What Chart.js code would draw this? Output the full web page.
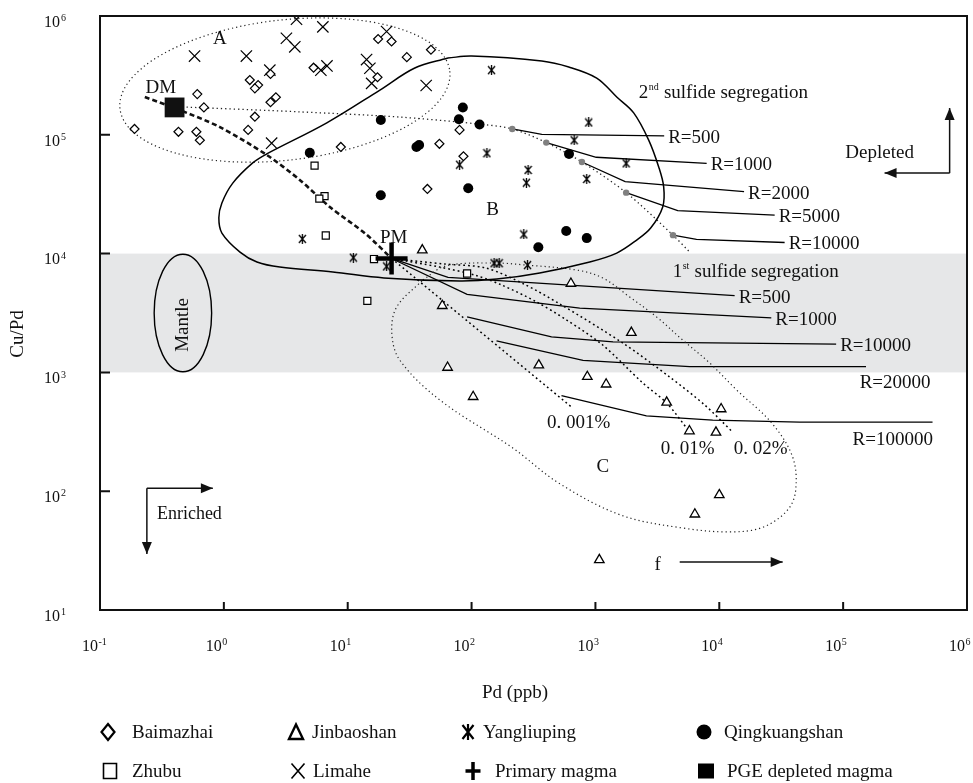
<!DOCTYPE html>
<html><head><meta charset="utf-8">
<script src="https://cdn.jsdelivr.net/npm/chart.js@4/dist/chart.umd.min.js"></script>
<style>html,body{margin:0;padding:0;background:#fff;} canvas{display:block;}</style>
</head><body>
<canvas id="c" width="973" height="783"></canvas>
<script>
// ---------- tick labels ----------
const xTicks = [0.1, 1, 10, 100, 1000, 10000, 100000, 1000000];
const xTickExp = ['-1', '0', '1', '2', '3', '4', '5', '6'];
const yTicks = [10, 100, 1000, 10000, 100000, 1000000];
const yTickExp = ['1', '2', '3', '4', '5', '6'];
const bandRange = [1000, 10000];

// ---------- sample series [Pd ppb, Cu/Pd] ----------
const baimazhai = [[17.6,640000],[22.6,610000],[30,450000],[47,520000],[5.3,367000],[1.62,289000],[1.89,262000],[1.78,246000],[2.38,325000],[17.4,305000],[0.61,220000],[0.69,170000],[2.38,188000],[2.63,207000],[1.78,142000],[1.57,110000],[0.19,112000],[0.43,106000],[0.60,106000],[0.64,90000],[8.8,79000],[80,110000],[86,66000],[44,35000],[55,84000]];
const zhubu = [[5.4,55000],[6.5,30500],[5.9,29000],[6.65,14200],[16.3,9000],[92,6800],[14.4,4000]];
const jinbaoshan = [[40,10700],[634,5600],[58,3640],[1950,2160],[64,1100],[349,1150],[860,920],[1220,795],[103,624],[3760,560],[10350,492],[5740,321],[9400,313],[10000,93],[6350,64],[1075,26.4]];
const yangliuping = [[4.3,13300],[11.1,9250],[20.6,7800],[80,56000],[145,350000],[883,127000],[673,90000],[133,70000],[1770,57500],[286,50600],[277,39500],[851,42500],[264,14500],[152,8300],[167,8300],[283,8000]];
const qingkuangshan = [[18.5,133000],[4.94,70600],[35.9,79000],[37.7,82000],[18.5,31000],[85,170000],[79,135000],[116,122000],[94,35500],[612,69000],[581,15500],[851,13500],[346,11300]];
const limahe = [[3.86,940000],[0.58,460000],[1.52,460000],[6.3,810000],[3.2,650000],[3.74,550000],[2.35,350000],[6.07,350000],[6.8,380000],[20.6,740000],[14.2,430000],[15.1,363000],[15.6,271000],[43,260000],[2.43,85000]];
const primaryMagma = [[22.6,9100]];
const depletedMagma = [[0.40,170000]];
const secondSegPoints = [[213,112000],[401,86000],[778,59000],[1770,32600],[4230,14300]];

// ---------- model curves / fields ----------
const envelopeB = [[64.3,443000],[100,460000],[369,418000],[609,372000],[1024,300000],[1486,208000],[2037,153000],[2692,90300],[3243,53600],[3557,36400],[3493,24700],[2793,16400],[2153,13000],[1486,10100],[900,8500],[355,6870],[160,6100],[80.3,5870],[19.6,6240],[7.58,7000],[2.83,7700],[1.85,8500],[1.35,10300],[0.964,14900],[0.911,20000],[0.964,26700],[1.18,39200],[1.71,58000],[2.22,69000],[6.78,126000],[18.2,238000],[34.8,365000],[64.3,443000]];
const fieldC = [[40.4,6000],[61.9,7870],[148,8340],[279,8000],[706,7270],[1145,6240],[1891,4310],[3126,2920],[5070,1870],[8370,1200],[13800,711],[26500,375],[39100,194],[41400,102],[35600,69.5],[22800,50],[12600,45.4],[5070,49],[1600,63],[506,117],[215,231],[55.4,586],[26.3,1270],[22.7,2150],[24.9,3560],[40.4,6000]];
const dmToPm = [[0.23,208000],[0.40,168000],[0.93,116000],[2.22,67600],[4.1,41700],[7.17,24700],[14,14600],[22.6,9100]];
const secondTrend = [[0.50,171000],[4.1,156000],[26.3,141000],[116,123000],[213,112000],[401,86000],[778,59000],[1770,32600],[4230,14300],[5770,10300]];
const r2_500 = [[213,112000],[369,101000],[3590,98000]];
const r2_1000 = [[401,86000],[1015,64700],[7910,57500]];
const r2_2000 = [[778,59000],[1738,40300],[15850,33200]];
const r2_5000 = [[1770,32600],[4616,23000],[28000,21100]];
const r2_10000 = [[4230,14300],[6546,13200],[33700,12400]];
const r1_500 = [[22.6,9100],[64.6,6310],[13300,4430]];
const r1_1000 = [[22.6,9100],[92,4540],[747,3470],[26300,2880]];
const r1_10000 = [[92,2940],[442,1990],[1387,1810],[87800,1730]];
const r1_20000 = [[159,1840],[794,1260],[5770,1120],[153000,1120]];
const r1_100000 = [[532,637],[2580,430],[8850,397],[44600,381],[527000,381]];
const fan001 = [[22.6,9100],[656,501]];
const fan01 = [[22.6,9100],[55.4,7700],[106,6600],[175,5440],[324,3990],[586,2760],[1145,1700],[2410,815],[3760,552],[5770,315]];
const fan02 = [[22.6,9100],[60.8,8170],[130,7570],[264,5550],[515,3770],[1660,1770],[3980,914],[7620,532],[12800,315]];

const FF = '"Liberation Serif", "Times New Roman", serif';
const xy = a => a.map(p => ({x: p[0], y: p[1]}));

// asterisk marker
function makeAsterisk(w, h, lw) {
  const c = document.createElement('canvas'); c.width = w + 2; c.height = h + 2;
  const g = c.getContext('2d'); g.strokeStyle = '#000'; g.lineWidth = lw; g.lineCap = 'butt';
  g.beginPath();
  g.moveTo(1, 1); g.lineTo(w + 1, h + 1);
  g.moveTo(w + 1, 1); g.lineTo(1, h + 1);
  g.moveTo(w / 2 + 1, 0); g.lineTo(w / 2 + 1, h + 2);
  g.stroke();
  return c;
}
const asteriskImg = makeAsterisk(7, 8, 1.3);

function pts(data, style, extra) {
  return Object.assign({type: 'scatter', data: xy(data), pointStyle: style, borderColor: '#000', backgroundColor: '#fff', borderWidth: 1.2, showLine: false, order: 1}, extra);
}
function curve(data, extra) {
  return Object.assign({type: 'scatter', data: xy(data), showLine: true, pointRadius: 0, borderColor: '#000', borderWidth: 1.3, fill: false, tension: 0, order: 3}, extra);
}

// annotation layout (text anchored in data space)
const notes = {
  letters: [
    {t: 'A', x: 0.93, y: 640000}, {t: 'DM', x: 0.31, y: 248000}, {t: 'PM', x: 23.5, y: 13500},
    {t: 'B', x: 148, y: 23300}, {t: 'C', x: 1145, y: 160}, {t: 'f', x: 3180, y: 23.9},
    {t: 'Depleted', x: 197000, y: 70300}, {t: '0. 001%', x: 733, y: 375},
    {t: '0. 01%', x: 5560, y: 226}, {t: '0. 02%', x: 21600, y: 226}
  ]
};

const deco = {
  id: 'deco',
  beforeDatasetsDraw(chart) {
    const {ctx, chartArea: a} = chart; const X = chart.scales.x, Y = chart.scales.y;
    ctx.save();
    ctx.fillStyle = '#e6e7e8';
    const yt = Y.getPixelForValue(bandRange[1]), yb = Y.getPixelForValue(bandRange[0]);
    ctx.fillRect(a.left, yt, a.right - a.left, yb - yt);
    const dx = X.getPixelForValue(10) - X.getPixelForValue(1);
    const dy = Y.getPixelForValue(10) - Y.getPixelForValue(100);
    // field A (dotted ellipse)
    ctx.strokeStyle = '#222'; ctx.lineWidth = 1.2; ctx.setLineDash([1.2, 3]);
    ctx.beginPath();
    ctx.ellipse(X.getPixelForValue(3.11), Y.getPixelForValue(238000), 1.34 * dx, 0.59 * dy, -6.5 * Math.PI / 180, 0, 2 * Math.PI);
    ctx.stroke();
    // mantle ellipse
    ctx.setLineDash([]); ctx.lineWidth = 1.4; ctx.strokeStyle = '#000';
    ctx.beginPath();
    ctx.ellipse(X.getPixelForValue(0.467), Y.getPixelForValue(3162), 0.232 * dx, 0.495 * dy, 0, 0, 2 * Math.PI);
    ctx.stroke();
    ctx.restore();
  },
  afterDatasetsDraw(chart) {
    const {ctx, chartArea: a} = chart; const X = chart.scales.x, Y = chart.scales.y;
    const P = (x, y) => [X.getPixelForValue(x), Y.getPixelForValue(y)];
    ctx.save();
    // frame
    ctx.strokeStyle = '#111'; ctx.lineWidth = 2;
    ctx.strokeRect(a.left, a.top, a.right - a.left, a.bottom - a.top);
    // ticks
    ctx.lineWidth = 2;
    ctx.beginPath();
    xTicks.forEach(v => { const x = X.getPixelForValue(v); ctx.moveTo(x, a.bottom); ctx.lineTo(x, a.bottom - 8); });
    yTicks.forEach(v => { const y = Y.getPixelForValue(v); ctx.moveTo(a.left, y); ctx.lineTo(a.left + 10, y); });
    ctx.stroke();
    // tick labels
    ctx.fillStyle = '#111';
    xTicks.forEach((v, i) => {
      const x = X.getPixelForValue(v);
      ctx.font = '16px ' + FF; ctx.textAlign = 'right'; ctx.textBaseline = 'middle';
      ctx.fillText('10', x - 2, a.bottom + 37);
      ctx.font = '10px ' + FF; ctx.textAlign = 'left';
      ctx.fillText(xTickExp[i], x - 1.5, a.bottom + 32);
    });
    yTicks.forEach((v, i) => {
      const y = Y.getPixelForValue(v);
      ctx.font = '16px ' + FF; ctx.textAlign = 'right'; ctx.textBaseline = 'middle';
      ctx.fillText('10', a.left - 40, y + 6.5);
      ctx.font = '10px ' + FF; ctx.textAlign = 'left';
      ctx.fillText(yTickExp[i], a.left - 39, y + 2.5);
    });
    // axis titles
    ctx.font = '19px ' + FF; ctx.textAlign = 'center'; ctx.textBaseline = 'middle';
    ctx.fillText('Pd (ppb)', 515, a.bottom + 83);
    ctx.save(); ctx.translate(18, 334); ctx.rotate(-Math.PI / 2); ctx.fillText('Cu/Pd', 0, 0); ctx.restore();

    // letters / notes
    ctx.fillStyle = '#111';
    notes.letters.forEach(n => {
      const [x, y] = P(n.x, n.y);
      ctx.font = '19px ' + FF; ctx.textAlign = 'center'; ctx.textBaseline = 'middle';
      ctx.fillText(n.t, x, y);
    });
    // Mantle
    { const [x, y] = P(0.467, 2510); ctx.save(); ctx.translate(x, y); ctx.rotate(-Math.PI / 2);
      ctx.font = '19px ' + FF; ctx.textAlign = 'center'; ctx.textBaseline = 'middle'; ctx.fillText('Mantle', 0, 0); ctx.restore(); }
    // Enriched
    { const [x, y] = P(0.288, 64.3); ctx.font = '18px ' + FF; ctx.textAlign = 'left'; ctx.textBaseline = 'middle'; ctx.fillText('Enriched', x, y); }
    // superscript labels
    const sup = (base, s, rest, xv, yv) => {
      const [x, y] = P(xv, yv);
      ctx.textAlign = 'left'; ctx.textBaseline = 'middle';
      ctx.font = '19px ' + FF; ctx.fillText(base, x, y);
      const w1 = ctx.measureText(base).width;
      ctx.font = '10px ' + FF; ctx.fillText(s, x + w1 + 0.5, y - 6);
      const w2 = ctx.measureText(s).width;
      ctx.font = '19px ' + FF; ctx.fillText(rest, x + w1 + w2 + 1, y);
    };
    sup('2', 'nd', ' sulfide segregation', 2235, 225000);
    sup('1', 'st', ' sulfide segregation', 4205, 7000);
    // R labels at line ends
    ctx.font = '19px ' + FF; ctx.textAlign = 'left'; ctx.textBaseline = 'middle';
    const endLabel = (arr, t) => { const p = arr[arr.length - 1]; const [x, y] = P(p[0], p[1]); ctx.fillText(t, x + 4, y + 2); };
    endLabel(r2_500, 'R=500'); endLabel(r2_1000, 'R=1000'); endLabel(r2_2000, 'R=2000');
    endLabel(r2_5000, 'R=5000'); endLabel(r2_10000, 'R=10000');
    endLabel(r1_500, 'R=500'); endLabel(r1_1000, 'R=1000'); endLabel(r1_10000, 'R=10000');
    { const [x, y] = P(136000, 815); ctx.fillText('R=20000', x, y); }
    { const [x, y] = P(119000, 270); ctx.fillText('R=100000', x, y); }

    // arrows
    const arrow = (x1, y1, x2, y2) => {
      const [ax, ay] = P(x1, y1), [bx, by] = P(x2, y2);
      ctx.strokeStyle = '#111'; ctx.lineWidth = 1.5; ctx.beginPath(); ctx.moveTo(ax, ay); ctx.lineTo(bx, by); ctx.stroke();
      const ang = Math.atan2(by - ay, bx - ax), L = 12, W = 5;
      ctx.beginPath(); ctx.moveTo(bx, by);
      ctx.lineTo(bx - L * Math.cos(ang) + W * Math.sin(ang), by - L * Math.sin(ang) - W * Math.cos(ang));
      ctx.lineTo(bx - L * Math.cos(ang) - W * Math.sin(ang), by - L * Math.sin(ang) + W * Math.cos(ang));
      ctx.closePath(); ctx.fill();
    };
    arrow(724000, 47600, 724000, 168000);
    arrow(724000, 47600, 216000, 47600);
    arrow(0.239, 106, 0.815, 106);
    arrow(0.239, 106, 0.239, 29.6);
    arrow(4790, 25.4, 32500, 25.4);
    ctx.restore();
  },
  afterDraw(chart) {
    const ctx = chart.ctx;
    ctx.save();
    ctx.strokeStyle = '#000'; ctx.fillStyle = '#000';
    const sym = (k, x, y) => {
      ctx.beginPath();
      if (k === 'diamond') { ctx.lineWidth = 2.2; ctx.moveTo(x, y - 8); ctx.lineTo(x + 6.5, y); ctx.lineTo(x, y + 8); ctx.lineTo(x - 6.5, y); ctx.closePath(); ctx.stroke(); }
      else if (k === 'triangle') { ctx.lineWidth = 2.4; ctx.moveTo(x, y - 7.5); ctx.lineTo(x + 7, y + 7); ctx.lineTo(x - 7, y + 7); ctx.closePath(); ctx.stroke(); }
      else if (k === 'asterisk') { ctx.lineWidth = 2.2; ctx.moveTo(x - 5.5, y - 7); ctx.lineTo(x + 5.5, y + 7); ctx.moveTo(x + 5.5, y - 7); ctx.lineTo(x - 5.5, y + 7); ctx.moveTo(x, y - 8); ctx.lineTo(x, y + 8); ctx.stroke(); }
      else if (k === 'circle') { ctx.arc(x, y, 7.5, 0, 2 * Math.PI); ctx.fill(); }
      else if (k === 'square') { ctx.lineWidth = 1.6; ctx.rect(x - 6.5, y - 7.5, 13, 15); ctx.stroke(); }
      else if (k === 'x') { ctx.lineWidth = 1.6; ctx.moveTo(x - 6.5, y - 7.5); ctx.lineTo(x + 6.5, y + 7.5); ctx.moveTo(x + 6.5, y - 7.5); ctx.lineTo(x - 6.5, y + 7.5); ctx.stroke(); }
      else if (k === 'plus') { ctx.lineWidth = 3.5; ctx.moveTo(x, y - 9); ctx.lineTo(x, y + 9); ctx.moveTo(x - 7.5, y); ctx.lineTo(x + 7.5, y); ctx.stroke(); }
      else if (k === 'filled') { ctx.fillRect(x - 8, y - 7.5, 16, 15); }
    };
    const items = [
      ['diamond', 108, 'Baimazhai', 132, 732], ['triangle', 296, 'Jinbaoshan', 312, 732],
      ['asterisk', 468, 'Yangliuping', 483, 732], ['circle', 704, 'Qingkuangshan', 724, 732],
      ['square', 110, 'Zhubu', 132, 771], ['x', 298, 'Limahe', 313, 771],
      ['plus', 473, 'Primary magma', 495, 771], ['filled', 706, 'PGE depleted magma', 727, 771]
    ];
    items.forEach(it => {
      sym(it[0], it[1], it[4]);
      ctx.font = '19px ' + FF; ctx.textAlign = 'left'; ctx.textBaseline = 'middle'; ctx.fillStyle = '#111';
      ctx.fillText(it[2], it[3], it[4] + 1);
      ctx.fillStyle = '#000';
    });
    ctx.restore();
  }
};

new Chart(document.getElementById('c'), {
  type: 'scatter',
  data: {
    datasets: [
      pts(primaryMagma, 'cross', {pointRadius: 16, borderWidth: 4.5, order: 0}),
      pts(depletedMagma, 'rect', {pointRadius: 14, backgroundColor: '#111', borderWidth: 0, order: 0}),
      pts(baimazhai, 'rectRot', {pointRadius: 4.5}),
      pts(zhubu, 'rect', {pointRadius: 5}),
      pts(jinbaoshan, 'triangle', {pointRadius: 5.5, borderWidth: 1.3}),
      pts(yangliuping, asteriskImg, {pointRadius: 5}),
      pts(qingkuangshan, 'circle', {pointRadius: 5, backgroundColor: '#000', borderWidth: 0}),
      pts(limahe, 'crossRot', {pointRadius: 8, borderWidth: 1.2}),
      pts(secondSegPoints, 'circle', {pointRadius: 3.2, backgroundColor: '#808080', borderWidth: 0}),
      curve(envelopeB, {borderWidth: 1.5, tension: 0.35}),
      curve(fieldC, {borderWidth: 1.2, tension: 0.35, borderDash: [1.2, 3], borderColor: '#222'}),
      curve(dmToPm, {borderWidth: 2.6, tension: 0.3, borderDash: [5, 3], borderColor: '#111'}),
      curve(secondTrend, {borderWidth: 1.3, tension: 0.3, borderDash: [1.3, 3], borderColor: '#222'}),
      curve(r2_500), curve(r2_1000), curve(r2_2000), curve(r2_5000), curve(r2_10000),
      curve(r1_500), curve(r1_1000), curve(r1_10000), curve(r1_20000), curve(r1_100000),
      curve(fan001, {borderWidth: 1.5, borderDash: [1.8, 3]}),
      curve(fan01, {borderWidth: 1.5, borderDash: [1.8, 3], tension: 0.3}),
      curve(fan02, {borderWidth: 1.5, borderDash: [1.8, 3], tension: 0.3})
    ]
  },
  options: {
    responsive: false, animation: false, devicePixelRatio: 1, events: [],
    layout: {autoPadding: false, padding: {left: 100, right: 6, top: 16, bottom: 173}},
    scales: {
      x: {type: 'logarithmic', min: 0.1, max: 1000000, display: false},
      y: {type: 'logarithmic', min: 10, max: 1000000, display: false}
    },
    plugins: {legend: {display: false}, tooltip: {enabled: false}}
  },
  plugins: [deco]
});
</script>
</body></html>
